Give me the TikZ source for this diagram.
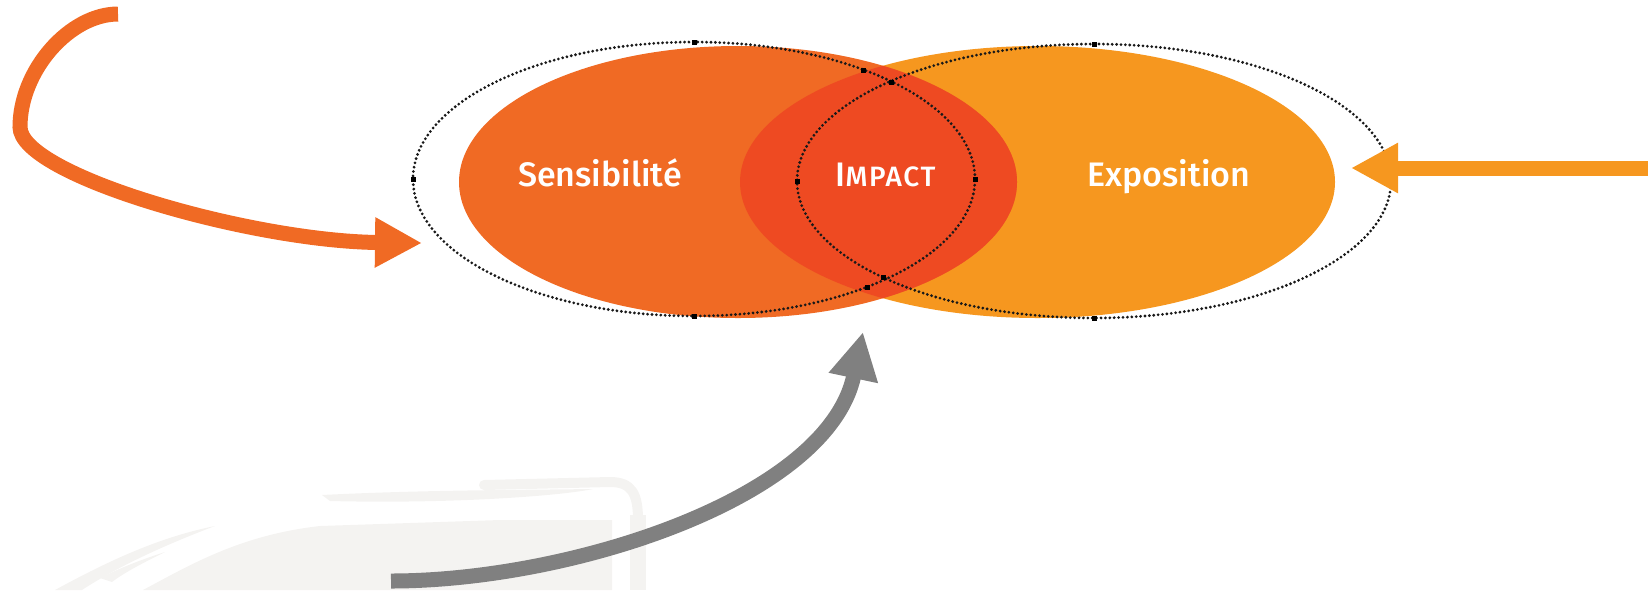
\documentclass[tikz,border=0pt]{standalone}
\usepackage{fontspec}
\setmainfont{Fira Sans}
\newfontfamily\medfont{Fira Sans}[UprightFont=* Medium]
\usetikzlibrary{arrows.meta}
\definecolor{sens}{HTML}{F06A24}
\definecolor{expo}{HTML}{F6971F}
\definecolor{imp}{HTML}{EE4A22}
\definecolor{arrgray}{HTML}{808080}
\definecolor{sketch}{HTML}{F4F3F1}
\begin{document}
\begin{tikzpicture}[x=1pt,y=-1pt,
  bigarrow/.style={line width=15pt, -{Triangle[length=47pt,width=47pt]}},
  dotring/.style={draw=black!90, line width=3.1pt, line cap=round, dash pattern=on 0pt off 4.4pt},
  handle/.style={fill=black, minimum size=5pt, inner sep=0pt, rectangle},
  txt/.style={text=white, font=\medfont\fontsize{34}{40}\selectfont, anchor=base, inner sep=0pt},
  sketchstroke/.style={draw=sketch, line cap=round}
]
\useasboundingbox (0,0) rectangle (1648,590);
% faint background sketch
\fill[sketch] (143,590) .. controls (190,565) and (240,535) .. (320,526) -- (500,520) -- (612,520) -- (612,590) -- cycle;
\fill[sketch] (55,590) .. controls (110,560) and (160,537) .. (215,526) .. controls (170,543) and (120,565) .. (82,590) -- cycle;
\fill[sketch] (100,578) .. controls (120,568) and (140,560) .. (165,552) .. controls (145,562) and (125,572) .. (112,582) -- cycle;
\fill[sketch] (322,495) .. controls (420,490) and (520,490) .. (593,489) .. controls (560,496) and (450,504) .. (330,501) -- cycle;
\draw[sketchstroke, line width=10pt] (484,485) -- (610,482) .. controls (632,482) and (638,494) .. (638,520);
\draw[sketch, line width=16pt] (638,515) -- (638,590);
% ellipses
\fill[expo] (1037.5,182) ellipse [x radius=297.5pt, y radius=136pt];
\fill[sens] (738,182) ellipse [x radius=279pt, y radius=136pt];
\begin{scope}
  \clip (738,182) ellipse [x radius=279pt, y radius=136pt];
  \fill[imp] (1037.5,182) ellipse [x radius=297.5pt, y radius=136pt];
\end{scope}
% dotted outlines
\draw[dotring] (694,179) ellipse [x radius=281pt, y radius=137pt];
\draw[dotring] (1094,181) ellipse [x radius=297pt, y radius=137pt];
% handles
\node[handle] (h1) at (413,179) {};
\node[handle] (h2) at (694,42) {};
\node[handle] (h3) at (694,316) {};
\node[handle] (h4) at (975,179) {};
\node[handle] (h5) at (797,181) {};
\node[handle] (h6) at (1094,44) {};
\node[handle] (h7) at (1094,318) {};
\node[handle] (h8) at (1391,181) {};
\node[handle] (h9) at (863,70) {};
\node[handle] (h10) at (891,82) {};
\node[handle] (h11) at (867,287) {};
\node[handle] (h12) at (883,277) {};
% labels
\node[txt] (sensl) at (600,186) {Sensibilité};
\node[txt] (impl) at (885.5,186) {I{\fontsize{28}{30}\selectfont\addfontfeature{LetterSpace=6}MPACT}};
\node[txt] (expol) at (1169,186) {Exposition};
% arrows
\coordinate (s0) at (118,14);
\coordinate (s1) at (20,127);
\coordinate (stip) at (422,243);
\draw[bigarrow, sens] (s0) .. controls (70,14) and (20,70) .. (s1) .. controls (20,175) and (250,241) .. (stip);
\coordinate (e0) at (1648,168);
\coordinate (etip) at (1351,168);
\draw[bigarrow, expo] (e0) -- (etip);
\coordinate (g0) at (391,581);
\coordinate (gtip) at (863,332);
\draw[bigarrow, arrgray] (g0) .. controls (571,581) and (828,498) .. (gtip);
\end{tikzpicture}
\end{document}
